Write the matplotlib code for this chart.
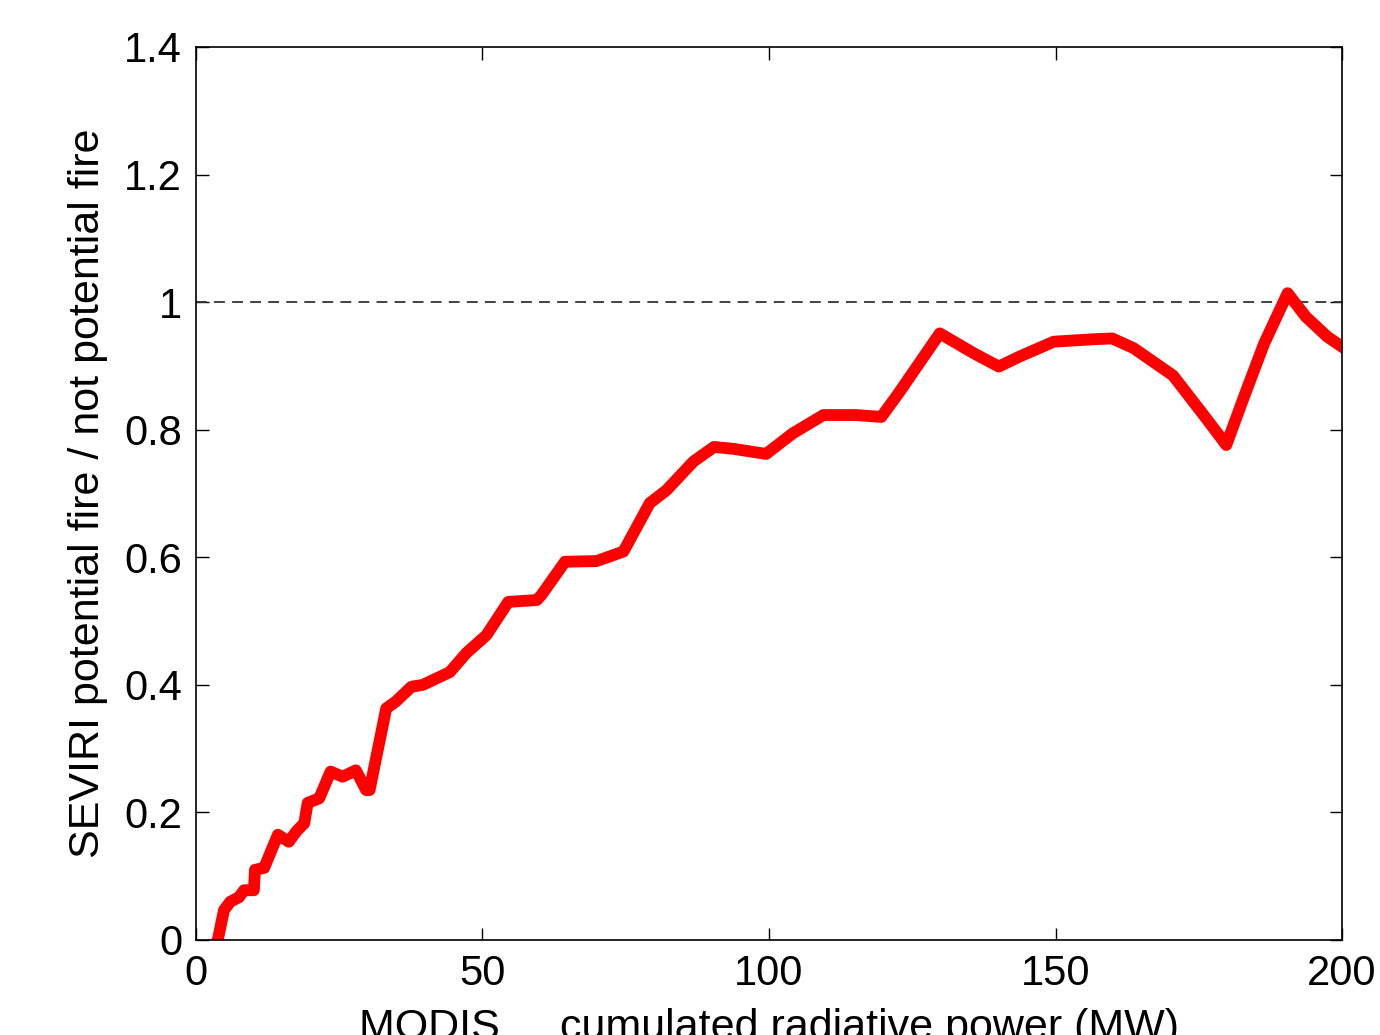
import matplotlib.pyplot as plt
import numpy as np

plt.rcParams["font.family"] = ["Liberation Sans", "DejaVu Sans"]

# ratio curve
power_mw = [3.8, 4.9, 6.0, 7.5, 8.4, 10.1, 10.3, 11.9, 14.3, 16.2, 17.5, 18.9,
            19.5, 21.5, 23.5, 25.6, 27.9, 29.7, 30.3, 33.2, 34.9, 37.6, 39.6,
            44.3, 47.2, 50.7, 54.5, 59.5, 60.3, 64.4, 69.9, 74.6, 79.2, 82.1,
            86.8, 90.4, 93.8, 99.5, 104.1, 109.5, 115.2, 119.6, 122.6, 129.8,
            135.7, 140.1, 143.8, 149.7, 157.0, 159.9, 163.6, 170.5, 176.1,
            179.8, 182.7, 186.4, 190.5, 193.7, 197.4, 200.0]
ratio = [0.0, 0.047, 0.060, 0.067, 0.078, 0.078, 0.110, 0.113, 0.165, 0.154,
         0.170, 0.183, 0.215, 0.222, 0.264, 0.256, 0.266, 0.235, 0.235, 0.363,
         0.374, 0.397, 0.400, 0.420, 0.450, 0.478, 0.530, 0.533, 0.541, 0.593,
         0.594, 0.609, 0.685, 0.705, 0.750, 0.773, 0.770, 0.762, 0.794, 0.823,
         0.823, 0.820, 0.857, 0.951, 0.920, 0.899, 0.915, 0.938, 0.942, 0.943,
         0.928, 0.885, 0.820, 0.776, 0.847, 0.935, 1.014, 0.977, 0.946, 0.930]

x_ticks = [0, 50, 100, 150, 200]
y_ticks = [0, 0.2, 0.4, 0.6, 0.8, 1, 1.2, 1.4]
y_tick_labels = ["0", "0.2", "0.4", "0.6", "0.8", "1", "1.2", "1.4"]

fig = plt.figure(figsize=(13.8, 10.35), dpi=100)
ax = fig.add_axes([0.142, 0.0918, 0.8305, 0.8628])

ax.axhline(1, color="#333333", linestyle=(0, (6, 4)), linewidth=1.3)
ax.plot(power_mw, ratio, color="#ff0000", linewidth=8.5)

ax.set_xlim(0, 200)
ax.set_ylim(0, 1.4)
ax.set_xticks(x_ticks)
ax.set_yticks(y_ticks)
ax.set_yticklabels(y_tick_labels)
ax.tick_params(direction="in", length=9, width=1, top=True, right=True,
               labelsize=30, pad=10)
for s in ax.spines.values():
    s.set_linewidth(1.2)

ax.set_xlabel("MODIS     cumulated radiative power (MW)", fontsize=31, labelpad=10)
ax.set_ylabel("SEVIRI potential fire / not potential fire", fontsize=31, labelpad=12)

fig.savefig("out.png", dpi=100)
